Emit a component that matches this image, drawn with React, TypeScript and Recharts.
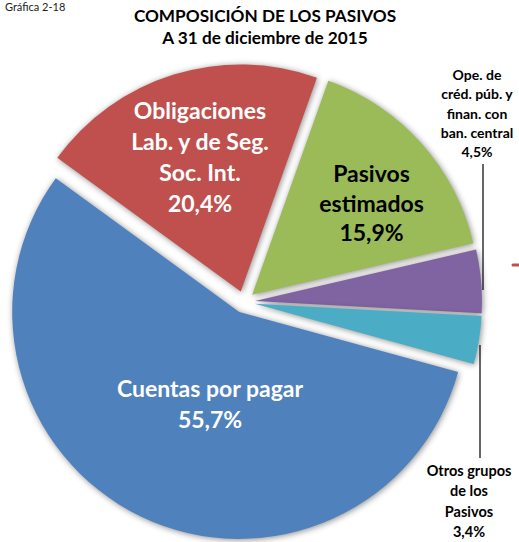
import React from 'react';
import { PieChart, Pie, Cell } from 'recharts';

// ---- data ----
const categories = [
  'Pasivos estimados',
  'Ope. de créd. púb. y finan. con ban. central',
  'Otros grupos de los Pasivos',
  'Cuentas por pagar',
  'Obligaciones Lab. y de Seg. Soc. Int.',
];
const values = [15.9, 4.5, 3.4, 55.7, 20.4];
const valueLabels = ['15,9%', '4,5%', '3,4%', '55,7%', '20,4%'];
const labelLines = [
  ['Pasivos', 'estimados'],
  ['Ope. de', 'créd. púb. y', 'finan. con', 'ban. central'],
  ['Otros grupos', 'de los', 'Pasivos'],
  ['Cuentas por pagar'],
  ['Obligaciones', 'Lab. y de Seg.', 'Soc. Int.'],
];
const colors = ['#9BBB59', '#8064A2', '#4BACC6', '#4F81BD', '#C0504D'];

// ---- layout ----
const W = 519;
const H = 542;
const CX = 244;
const CY = 302;
const R = 227;
const EXPLODE = 11;
const START = 70.4;
const FONT = 'Lato, "Open Sans", sans-serif';

type LabelStyle = { x: number; y: number; size: number; fill: string; lh: number; leader?: [number, number, number] };
const labelStyles: LabelStyle[] = [
  { x: 371.5, y: 182, size: 23, fill: '#000', lh: 29.5 },
  { x: 477, y: 80, size: 14, fill: '#000', lh: 19.3, leader: [483, 164, 290] },
  { x: 469, y: 476, size: 14.5, fill: '#000', lh: 20.3, leader: [480, 345, 458] },
  { x: 210, y: 397, size: 23, fill: '#fff', lh: 31 },
  { x: 200, y: 119, size: 23, fill: '#fff', lh: 31 },
];

const total = values.reduce((a, b) => a + b, 0);
const slices = values.map((v, i) => {
  const before = values.slice(0, i).reduce((a, b) => a + b, 0);
  const start = START - (before / total) * 360;
  const end = START - ((before + v) / total) * 360;
  const mid = ((start + end) / 2) * (Math.PI / 180);
  return {
    name: categories[i],
    value: v,
    start,
    end,
    cx: CX + EXPLODE * Math.cos(mid),
    cy: CY - EXPLODE * Math.sin(mid),
  };
});

const makeLabel = (i: number) => () => {
  const s = labelStyles[i];
  const lines = [...labelLines[i], valueLabels[i]];
  return (
    <g>
      {s.leader && (
        <line x1={s.leader[0]} y1={s.leader[1]} x2={s.leader[0]} y2={s.leader[2]} stroke="#000" strokeWidth={1.2} />
      )}
      {i === 1 && (
        <line x1={513} y1={265} x2={521} y2={265} stroke="#C0504D" strokeWidth={3} strokeLinecap="round" />
      )}
      <text
        textAnchor="middle"
        fontFamily={FONT}
        fontWeight={700}
        fontSize={s.size}
        fill={s.fill}
      >
        {lines.map((l, k) => (
          <tspan key={k} x={s.x} y={s.y + k * s.lh}>
            {l}
          </tspan>
        ))}
      </text>
    </g>
  );
};

export default function App() {
  return (
    <div style={{ position: 'absolute', left: 0, top: 0, width: W, height: H, background: '#fff', fontFamily: FONT }}>
      <style>{'.recharts-sector{filter:drop-shadow(1px 1px 3px rgba(0,0,0,0.45));}'}</style>
      <PieChart width={W} height={H} margin={{ top: 0, right: 0, bottom: 0, left: 0 }}>
        {slices.map((s, i) => (
          <Pie
            key={s.name}
            data={[s]}
            dataKey="value"
            nameKey="name"
            cx={s.cx}
            cy={s.cy}
            outerRadius={R}
            innerRadius={0}
            startAngle={s.start}
            endAngle={s.end}
            stroke="none"
            isAnimationActive={false}
            labelLine={false}
            label={makeLabel(i)}
          >
            <Cell fill={colors[i]} />
          </Pie>
        ))}
      </PieChart>
      <div style={{ position: 'absolute', left: 5, top: 0, fontSize: 11, lineHeight: '13px', color: '#222', fontFamily: FONT }}>Gráfica 2-18</div>
      <div
        style={{
          position: 'absolute',
          left: 0,
          top: 5,
          width: 530,
          textAlign: 'center',
          fontSize: 17.2,
          fontWeight: 700,
          lineHeight: '22px',
          color: '#000',
        }}
      >
        <div>COMPOSICIÓN DE LOS PASIVOS</div>
        <div>A 31 de diciembre de 2015</div>
      </div>
    </div>
  );
}
